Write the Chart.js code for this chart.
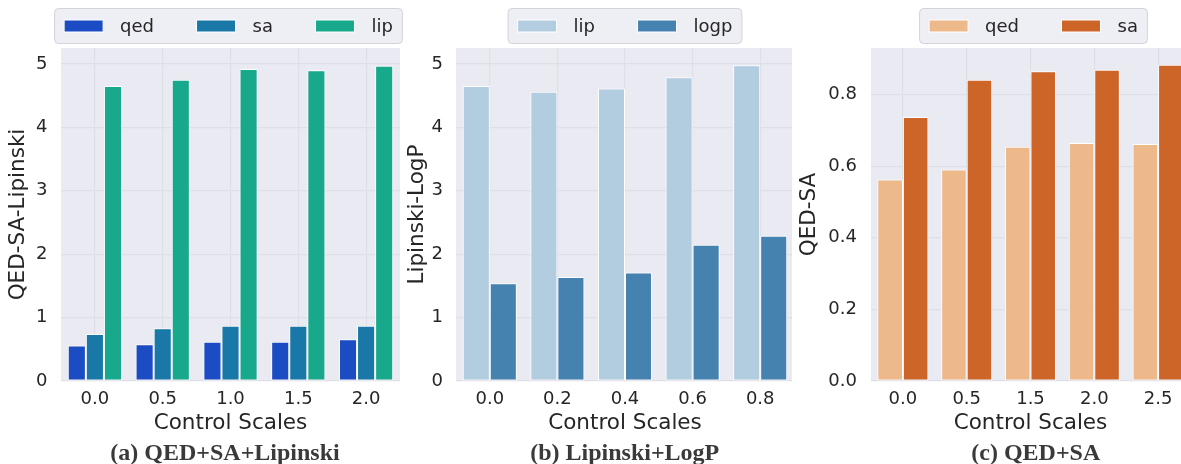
<!DOCTYPE html>
<html><head><meta charset="utf-8">
<script src="https://cdn.jsdelivr.net/npm/chart.js@4.4.1/dist/chart.umd.min.js"></script>
<style>
html,body{margin:0;padding:0;background:#fff;overflow:hidden;width:1181px;height:464px;}
.wrap{position:absolute;top:0;height:464px;overflow:hidden;}
canvas{position:absolute;top:0;left:0;}
</style></head><body>
<div class="wrap" style="left:0;width:404px"><canvas id="ca" width="404" height="464"></canvas></div>
<div class="wrap" style="left:404px;width:388px"><canvas id="cb" width="392" height="464"></canvas></div>
<div class="wrap" style="left:792px;width:389px"><canvas id="cc" width="400" height="464"></canvas></div>
<script>
// ---- data ----
const scalesA = ['0.0', '0.5', '1.0', '1.5', '2.0'];
const qedA = [0.56, 0.58, 0.62, 0.62, 0.66];
const saA  = [0.74, 0.83, 0.87, 0.87, 0.87];
const lipA = [4.65, 4.75, 4.92, 4.90, 4.97];

const scalesB = ['0.0', '0.2', '0.4', '0.6', '0.8'];
const lipB  = [4.65, 4.56, 4.61, 4.79, 4.98];
const logpB = [1.54, 1.64, 1.71, 2.15, 2.29];

const scalesC = ['0.0', '0.5', '1.5', '2.0', '2.5'];
const qedC = [0.563, 0.591, 0.654, 0.665, 0.662];
const saC  = [0.737, 0.841, 0.865, 0.869, 0.883];

const yTicksAB = [0, 1, 2, 3, 4, 5];
const yTicksC = [0.0, 0.2, 0.4, 0.6, 0.8];

const yTitles = ['QED-SA-Lipinski', 'Lipinski-LogP', 'QED-SA'];
const xTitle = 'Control Scales';
const captions = ['(a) QED+SA+Lipinski', '(b) Lipinski+LogP', '(c) QED+SA'];

// ---- styling ----
const TXT = '#262626';
Chart.defaults.font.family = "'DejaVu Sans', sans-serif";
Chart.defaults.color = TXT;

const panelDeco = {
  id: 'panelDeco',
  beforeDraw(chart) {
    const {ctx, chartArea: a} = chart;
    ctx.save();
    ctx.fillStyle = '#eaeaf2';
    ctx.fillRect(a.left, a.top, a.right - a.left, a.bottom - a.top);
    ctx.restore();
  },
  afterDraw(chart, args, o) {
    const ctx = chart.ctx, a = chart.chartArea;
    const cx = (a.left + a.right) / 2;
    ctx.save();
    ctx.font = "18px 'DejaVu Sans'";
    const items = chart.data.datasets.map(d => ({label: d.label, color: d.backgroundColor, w: ctx.measureText(d.label).width}));
    const pad = 9.5, sw = 39, gap = 17, col = 42.5;
    const width = pad * 2 + items.reduce((s, it) => s + sw + gap + it.w, 0) + col * (items.length - 1);
    const x0 = cx + o.legendDx - width / 2, top = 8.5, h = 35;
    ctx.beginPath();
    ctx.roundRect(x0, top, width, h, 4);
    ctx.fillStyle = '#eeeef5';
    ctx.fill();
    ctx.lineWidth = 1;
    ctx.strokeStyle = '#d2d2d9';
    ctx.stroke();
    let x = x0 + pad;
    const my = top + h / 2;
    items.forEach(it => {
      ctx.fillStyle = it.color;
      ctx.fillRect(x, my - 6, sw, 12);
      ctx.strokeStyle = '#ffffff';
      ctx.strokeRect(x, my - 6, sw, 12);
      ctx.fillStyle = TXT;
      ctx.textAlign = 'left';
      ctx.textBaseline = 'middle';
      ctx.fillText(it.label, x + sw + gap, my + 1);
      x += sw + gap + it.w + col;
    });
    ctx.font = "bold 24px 'Liberation Serif', serif";
    ctx.fillStyle = '#3a3a3a';
    ctx.textAlign = 'center';
    ctx.textBaseline = 'alphabetic';
    ctx.fillText(o.caption, cx + o.captionDx, 460);
    ctx.restore();
  }
};

function makeChart(id, labels, datasets, cfg) {
  return new Chart(document.getElementById(id), {
    type: 'bar',
    data: {
      labels: labels,
      datasets: datasets.map(d => ({
        label: d.label, data: d.data, backgroundColor: d.color,
        borderColor: '#ffffff', borderWidth: 1, borderSkipped: false,
        categoryPercentage: 0.8, barPercentage: 1.0
      }))
    },
    options: {
      responsive: false, animation: false, devicePixelRatio: 1,
      layout: {padding: {left: cfg.padLeft, right: cfg.padRight, top: 48, bottom: 28}},
      plugins: {
        legend: {display: false}, tooltip: {enabled: false},
        panelDeco: {legendDx: cfg.legendDx, caption: cfg.caption, captionDx: cfg.captionDx}
      },
      scales: {
        x: {
          grid: {display: true, color: '#dfdfe7', lineWidth: 1.2, offset: false, drawTicks: false},
          border: {display: false},
          ticks: {font: {size: 18}, color: TXT, padding: 8, autoSkip: false, maxRotation: 0},
          title: {display: true, text: xTitle, font: {size: 21.5}, color: TXT, padding: 0},
          afterFit: s => { s.height = 55; }
        },
        y: {
          min: 0, max: cfg.yMax,
          grid: {color: '#dfdfe7', lineWidth: 1.2, drawTicks: false},
          border: {display: false},
          ticks: {font: {size: 18}, color: TXT, padding: cfg.tickPad, includeBounds: false,
                  callback: v => cfg.fmt(v)},
          afterBuildTicks: s => { s.ticks = cfg.yTicks.map(v => ({value: v})); },
          title: {display: true, text: cfg.yTitle, font: {size: 21.5}, color: TXT, padding: 0},
          afterFit: s => { s.width = cfg.yWidth; }
        }
      }
    },
    plugins: [panelDeco]
  });
}

makeChart('ca', scalesA, [
  {label: 'qed', data: qedA, color: '#1c4cc4'},
  {label: 'sa', data: saA, color: '#1a78a8'},
  {label: 'lip', data: lipA, color: '#18a88c'}
], {padLeft: 6, padRight: 4, yWidth: 55, tickPad: 13.5, yMax: 5.25, yTicks: yTicksAB,
    fmt: v => String(v), yTitle: yTitles[0], legendDx: -2, caption: captions[0], captionDx: -5.5});

makeChart('cb', scalesB, [
  {label: 'lip', data: lipB, color: '#b3cde0'},
  {label: 'logp', data: logpB, color: '#4682b0'}
], {padLeft: 1, padRight: 2, yWidth: 51, tickPad: 13, yMax: 5.25, yTicks: yTicksAB,
    fmt: v => String(v), yTitle: yTitles[1], legendDx: 0, caption: captions[1], captionDx: -0.3});

makeChart('cc', scalesC, [
  {label: 'qed', data: qedC, color: '#edb98a'},
  {label: 'sa', data: saC, color: '#cd6428'}
], {padLeft: 5, padRight: 2, yWidth: 74, tickPad: 14, yMax: 0.93, yTicks: yTicksC,
    fmt: v => v.toFixed(1), yTitle: yTitles[2], legendDx: 3, caption: captions[2], captionDx: 5.3});
</script>
</body></html>
